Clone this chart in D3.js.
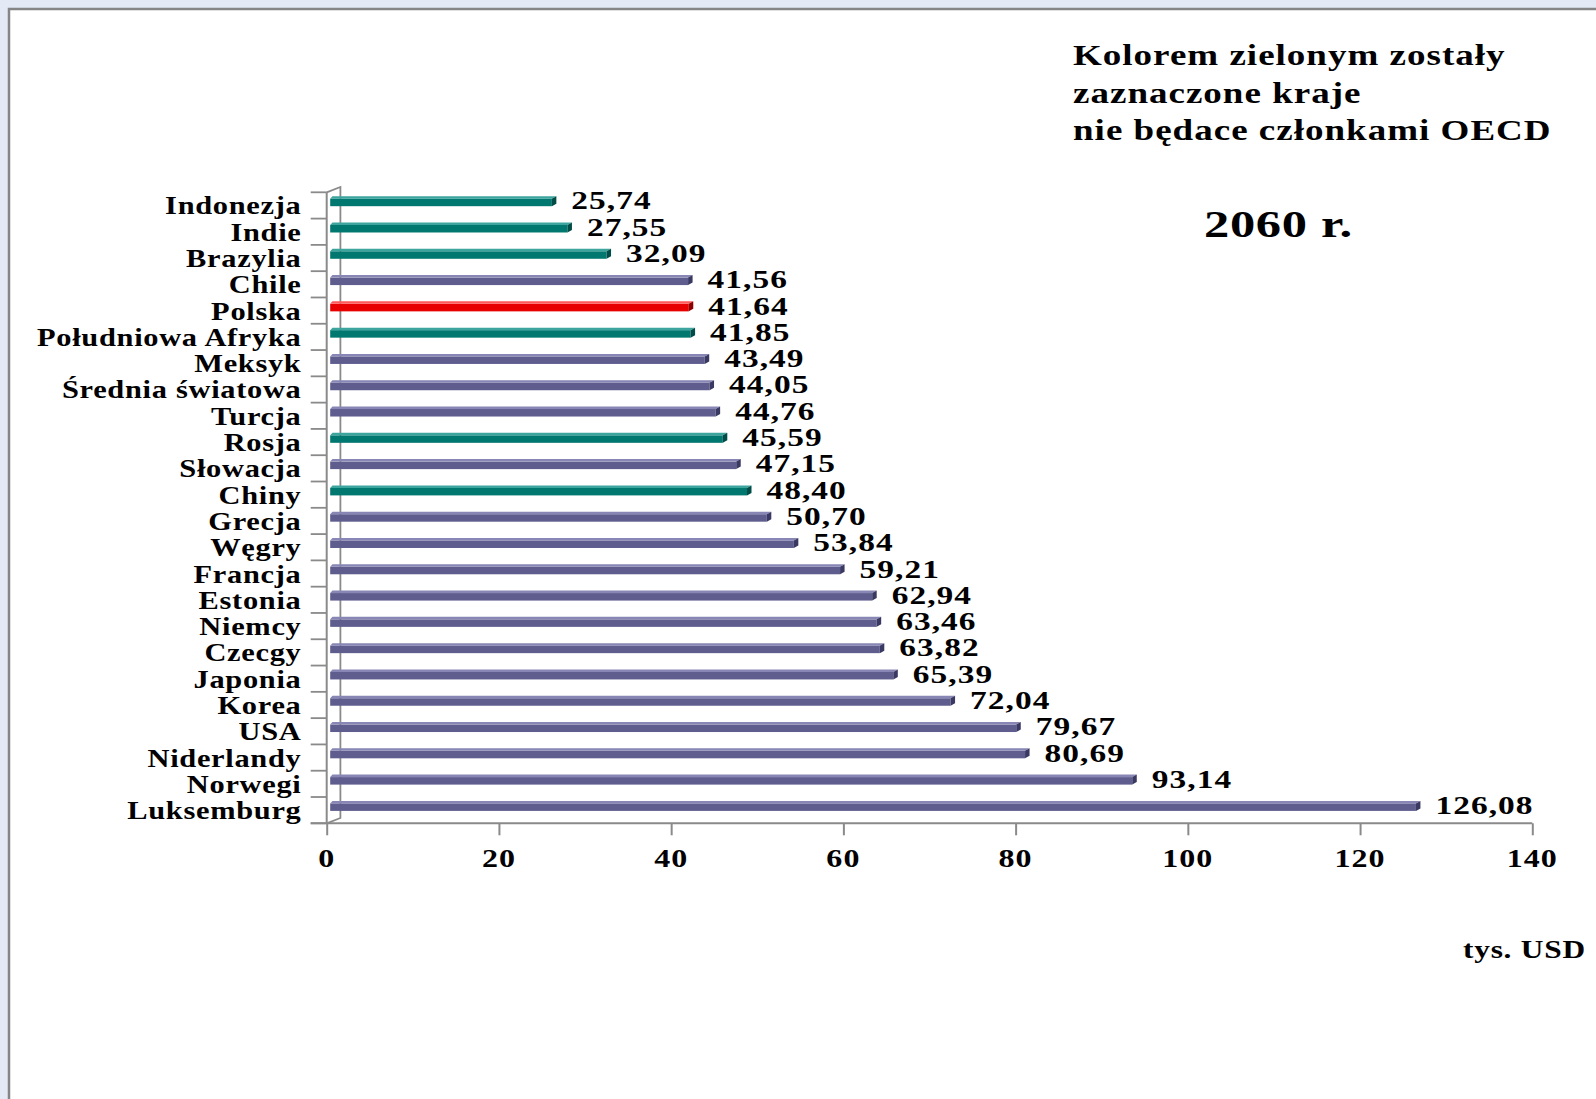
<!DOCTYPE html>
<html><head><meta charset="utf-8">
<script src="https://cdn.jsdelivr.net/npm/d3@7"></script>
<style>
html,body{margin:0;padding:0;background:#e3e9f5;overflow:hidden}
text{font-family:"Liberation Serif","Times New Roman",serif;font-weight:bold;fill:#000}
</style></head>
<body><svg id="c" width="1596" height="1099"></svg>
<script>
const categories = ["Indonezja","Indie","Brazylia","Chile","Polska","Południowa Afryka","Meksyk","Średnia światowa","Turcja","Rosja","Słowacja","Chiny","Grecja","Węgry","Francja","Estonia","Niemcy","Czecgy","Japonia","Korea","USA","Niderlandy","Norwegi","Luksemburg"];
const values = [25.74,27.55,32.09,41.56,41.64,41.85,43.49,44.05,44.76,45.59,47.15,48.40,50.70,53.84,59.21,62.94,63.46,63.82,65.39,72.04,79.67,80.69,93.14,126.08];
const groups = ["non","non","non","oecd","pl","non","oecd","oecd","oecd","non","oecd","non","oecd","oecd","oecd","oecd","oecd","oecd","oecd","oecd","oecd","oecd","oecd","oecd"];
const xTicks = [0,20,40,60,80,100,120,140];
const noteLines = ["Kolorem zielonym zostały","zaznaczone kraje","nie będace członkami OECD"];
const yearLabel = "2060 r.";
const unitLabel = "tys. USD";

const palette = {
  oecd:{front:"#5e5d8e", top:"#8786b4", side:"#3a3963"},
  non:{front:"#00786f", top:"#3ea59e", side:"#004c46"},
  pl:{front:"#e80000", top:"#ff5a5a", side:"#8e0000"}
};
const svg = d3.select("#c");

svg.append("rect").attr("x",8).attr("y",8).attr("width",1600).attr("height",1100).attr("fill","#fff");
svg.append("path").attr("d","M9,1099 V9 H1596").attr("fill","none").attr("stroke","#858585").attr("stroke-width",2.5);

const x = d3.scaleLinear().domain([0,140]).range([326.7,1532.3]);
const y = d3.scaleBand().domain(categories).range([192.3,823.3]).padding(0);
const DX = 13.7, DY = 5.3;
const gray = "#8a8a8a";

function stext(g, px, py, str, size, anchor, sx, ls){
  return g.append("text")
    .attr("transform",`translate(${px},${py}) scale(${sx},1)`)
    .attr("text-anchor",anchor||"start")
    .attr("font-size",size)
    .attr("letter-spacing",ls)
    .text(str);
}

const x0 = x(0), yTop = y.range()[0], yBot = y.range()[1];
svg.append("path")
  .attr("d",`M${x0},${yTop} L${x0+DX},${yTop-DY} L${x0+DX},${yBot-DY} L${x0},${yBot}`)
  .attr("fill","none").attr("stroke",gray).attr("stroke-width",1.8);
svg.append("line").attr("x1",x0).attr("x2",x0).attr("y1",yTop).attr("y2",yBot)
  .attr("stroke",gray).attr("stroke-width",2);

const catEdges = categories.map(c=>y(c)).concat([yBot]);
svg.selectAll("line.ct").data(catEdges).enter().append("line")
  .attr("x1",x0-16).attr("x2",x0).attr("y1",d=>d).attr("y2",d=>d)
  .attr("stroke",gray).attr("stroke-width",1.8);

const xAxis = d3.axisBottom(x).tickValues(xTicks).tickSize(12).tickFormat(d=>d);
const ax = svg.append("g").attr("transform",`translate(0,${yBot})`).call(xAxis);
ax.select(".domain").attr("stroke",gray).attr("stroke-width",2).attr("d",`M${x0-16},0H${x(140)}`);
ax.selectAll(".tick line").attr("stroke",gray).attr("stroke-width",2);
ax.selectAll(".tick text").remove();
xTicks.forEach(t=>stext(svg, x(t), 867, String(t), 25, "middle", 1.28, 0.8));

const OFF = 3.5, bdx = 4.5, bdy = 2.5, bh = 7.5;
const bars = svg.append("g");
categories.forEach((c,i)=>{
  const v = values[i], col = palette[groups[i]];
  const cy = y(c) + y.bandwidth()/2 - 4;
  const xa = x(0)+OFF, xe = x(v)+OFF;
  const t = cy - bh/2 + 1, b = cy + bh/2 + 1;
  bars.append("rect").attr("x",xa).attr("y",t).attr("width",xe-xa).attr("height",b-t).attr("fill",col.front);
  bars.append("path").attr("d",`M${xa},${t} L${xa+bdx*0.5},${t-bdy} L${xe+bdx},${t-bdy} L${xe},${t}Z`).attr("fill",col.top);
  bars.append("path").attr("d",`M${xe},${t} L${xe+bdx},${t-bdy} L${xe+bdx},${b-bdy} L${xe},${b}Z`).attr("fill",col.side);
  stext(svg, xe+bdx+15, cy+8, v.toFixed(2).replace(".",","), 25.5, "start", 1.31, 0.8);
  stext(svg, 301.5, y(c)+y.bandwidth()/2+9, c, 26, "end", 1.17, 0.6);
});

noteLines.forEach((l,i)=>stext(svg, 1073, 65+i*37.5, l, 29.5, "start", 1.255, 0.8));
stext(svg, 1204, 236.7, yearLabel, 38, "start", 1.33, 0.5);
stext(svg, 1463, 958, unitLabel, 24.5, "start", 1.28, 0.6);
</script></body></html>
